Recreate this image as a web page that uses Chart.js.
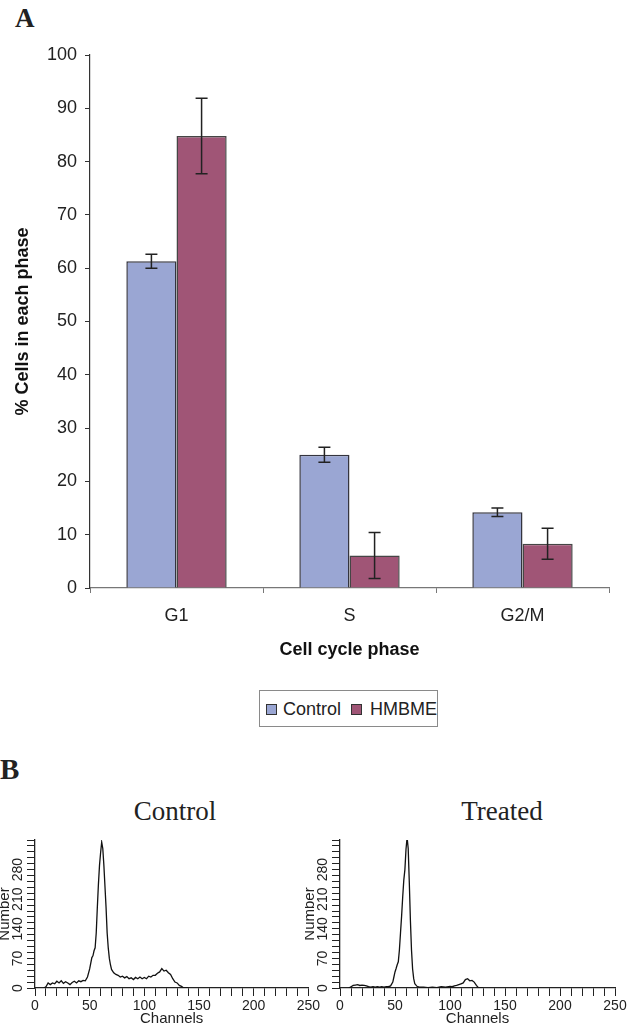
<!DOCTYPE html>
<html>
<head>
<meta charset="utf-8">
<script src="https://cdn.jsdelivr.net/npm/chart.js@4.4.1/dist/chart.umd.min.js"></script>
<style>
  body { margin: 0; width: 630px; height: 1028px; position: relative; background: #fff; overflow: hidden; color: #222; font-family: "Liberation Sans", Arial, sans-serif; }
  .abs { position: absolute; }
  .panel { font-family: "Liberation Serif", "Times New Roman", serif; font-weight: bold; line-height: 1; }
  .htitle { font-family: "Liberation Serif", "Times New Roman", serif; font-size: 27px; line-height: 1; text-align: center; width: 200px; }
  #legend { left: 259px; top: 690px; width: 177px; height: 35px; border: 1.5px solid #8a8a8a; }
  .sw { position: absolute; width: 9px; height: 9px; border: 1px solid #333; top: 13px; }
  .lt { position: absolute; font-size: 18px; line-height: 18px; top: 9px; }
</style>
</head>
<body>
<div class="abs panel" style="left:15px;top:5px;font-size:27px;">A</div>
<div class="abs panel" style="left:0px;top:755px;font-size:29px;">B</div>

<canvas id="bars" class="abs" style="left:0;top:0" width="630" height="680"></canvas>

<div id="legend" class="abs">
  <div class="sw" style="left:6px;background:#9aa6d3"></div>
  <div class="lt" style="left:23px">Control</div>
  <div class="sw" style="left:91px;background:#a05576"></div>
  <div class="lt" style="left:110px">HMBME</div>
</div>

<div class="abs htitle" style="left:75px;top:798px;">Control</div>
<div class="abs htitle" style="left:402px;top:798px;">Treated</div>
<canvas id="histCtrl" class="abs" style="left:0;top:830px" width="322" height="198"></canvas>
<canvas id="histTreat" class="abs" style="left:305px;top:830px" width="325" height="198"></canvas>

<script>
// Panel A: cell cycle distribution
const phases = ['G1', 'S', 'G2/M'];
const controlPct = [61.3, 25.0, 14.2];
const controlErr = [1.3, 1.4, 0.8];
const hmbmePct = [84.8, 6.1, 8.3];
const hmbmeErr = [7.1, 4.3, 2.9];

// Panel B: DNA histograms (channel, count)
const ctrlChannels = [8, 10, 12, 14, 16, 18, 20, 22, 24, 26, 28, 30, 32, 34, 36, 38, 40, 42, 44, 46, 48, 50, 52, 53, 54, 55, 56, 57, 58, 59, 60, 61, 62, 63, 64, 65, 66, 67, 68, 69, 70, 72, 74, 76, 78, 80, 82, 84, 86, 88, 90, 92, 94, 96, 98, 100, 102, 104, 106, 108, 110, 112, 114, 116, 118, 120, 122, 124, 126, 128, 130, 132, 134, 136, 140];
const ctrlCounts = [0, 3, 12, 8, 12, 10, 16, 12, 17, 11, 15, 12, 8, 13, 16, 12, 17, 15, 18, 17, 26, 45, 72, 76, 88, 95, 130, 190, 245, 290, 320, 345, 330, 290, 240, 190, 130, 95, 70, 55, 44, 36, 32, 30, 26, 28, 24, 27, 22, 24, 20, 25, 22, 26, 22, 25, 22, 28, 26, 30, 30, 35, 38, 46, 40, 42, 36, 32, 22, 14, 12, 6, 4, 0, 0];
const treatChannels = [8, 10, 12, 14, 16, 18, 20, 22, 24, 26, 28, 30, 32, 34, 36, 38, 40, 42, 44, 46, 48, 49, 50, 51, 52, 53, 54, 55, 56, 57, 58, 59, 60, 61, 62, 63, 64, 65, 66, 67, 68, 70, 72, 76, 80, 84, 88, 92, 96, 100, 102, 104, 106, 108, 110, 112, 114, 116, 118, 120, 122, 124, 126, 130];
const treatCounts = [0, 3, 6, 7, 8, 6, 7, 6, 5, 3, 2, 3, 2, 3, 2, 3, 2, 3, 3, 5, 14, 26, 38, 46, 55, 62, 90, 130, 170, 215, 255, 280, 328, 356, 330, 250, 160, 90, 45, 22, 10, 4, 2, 2, 1, 2, 1, 3, 2, 4, 3, 5, 6, 8, 10, 12, 20, 22, 17, 18, 14, 6, 0, 0];
const histYLabels = [0, 70, 140, 210, 280];

const sans = '"Liberation Sans", Arial, sans-serif';

const errorBars = {
    id: 'errorBars',
    afterDatasetsDraw(chart) {
        const { ctx, scales: { y } } = chart;
        ctx.save();
        ctx.strokeStyle = '#222';
        ctx.lineWidth = 1.5;
        chart.data.datasets.forEach((ds, i) => {
            chart.getDatasetMeta(i).data.forEach((bar, j) => {
                const top = y.getPixelForValue(ds.data[j] + ds.errors[j]);
                const bot = y.getPixelForValue(ds.data[j] - ds.errors[j]);
                ctx.beginPath();
                ctx.moveTo(bar.x, top); ctx.lineTo(bar.x, bot);
                ctx.moveTo(bar.x - 6, top); ctx.lineTo(bar.x + 6, top);
                ctx.moveTo(bar.x - 6, bot); ctx.lineTo(bar.x + 6, bot);
                ctx.stroke();
            });
        });
        ctx.restore();
    }
};

new Chart(document.getElementById('bars'), {
    type: 'bar',
    data: {
        labels: phases,
        datasets: [
            { label: 'Control', data: controlPct, errors: controlErr, backgroundColor: '#9aa6d3', borderColor: '#34343e', borderWidth: 1.5 },
            { label: 'HMBME', data: hmbmePct, errors: hmbmeErr, backgroundColor: '#a05576', borderColor: '#454545', borderWidth: 1.5 }
        ]
    },
    options: {
        responsive: false,
        animation: false,
        layout: { padding: { top: 55, right: 21, left: 0, bottom: 0 } },
        categoryPercentage: 0.58,
        barPercentage: 1.0,
        scales: {
            x: {
                afterFit: s => { s.height = 92; },
                grid: { offset: true, drawOnChartArea: false, drawTicks: true, tickLength: 5, color: '#777' },
                border: { color: '#777', width: 1.2 },
                ticks: { color: '#222', font: { family: sans, size: 18 }, padding: 12 },
                title: { display: true, text: 'Cell cycle phase', color: '#111', font: { family: sans, size: 18, weight: 'bold' }, padding: { top: 0, bottom: 19 } }
            },
            y: {
                min: 0, max: 100,
                afterFit: s => { s.width = 90; },
                grid: { drawOnChartArea: false, drawTicks: true, tickLength: 5, color: '#333' },
                border: { color: '#333', width: 1.2 },
                ticks: { stepSize: 10, color: '#222', font: { family: sans, size: 18 }, padding: 8 },
                title: { display: true, text: '% Cells in each phase', color: '#111', font: { family: sans, size: 18, weight: 'bold' }, padding: { top: 12, bottom: 0 } }
            }
        },
        plugins: { legend: { display: false }, tooltip: { enabled: false } }
    },
    plugins: [errorBars]
});

const rotatedYLabels = {
    id: 'rotatedYLabels',
    afterDraw(chart) {
        const { ctx, scales: { y } } = chart;
        ctx.save();
        ctx.font = '14px ' + sans;
        ctx.fillStyle = '#222';
        ctx.textAlign = 'center';
        ctx.textBaseline = 'middle';
        histYLabels.forEach(v => {
            ctx.save();
            ctx.translate(y.right - 17, y.getPixelForValue(v));
            ctx.rotate(-Math.PI / 2);
            ctx.fillText(String(v), 0, 0);
            ctx.restore();
        });
        ctx.restore();
    }
};

function makeHist(id, channels, counts, padRight) {
    new Chart(document.getElementById(id), {
        type: 'line',
        data: {
            datasets: [{
                data: channels.map((c, i) => ({ x: c, y: counts[i] })),
                borderColor: '#111', borderWidth: 1.3, pointRadius: 0, tension: 0, fill: false
            }]
        },
        options: {
            responsive: false,
            animation: false,
            layout: { padding: { top: 10, right: padRight, left: 0, bottom: 0 } },
            scales: {
                x: {
                    type: 'linear', min: 0, max: 250,
                    afterFit: s => { s.height = 40; },
                    grid: { drawOnChartArea: false, drawTicks: true, tickLength: 8, color: '#222' },
                    border: { color: '#222', width: 1.3 },
                    ticks: { stepSize: 10, autoSkip: false, maxRotation: 0, color: '#222', font: { family: sans, size: 14 }, padding: 2,
                        callback: v => (v % 50 === 0 ? v : '') },
                    title: { display: true, text: 'Channels', color: '#222', font: { family: sans, size: 15 }, padding: { top: 0, bottom: 0 } }
                },
                y: {
                    min: 0, max: 350,
                    afterFit: s => { s.width = 35; },
                    grid: { drawOnChartArea: false, drawTicks: true, tickLength: 8, color: '#222' },
                    border: { color: '#222', width: 1.3 },
                    ticks: { stepSize: 14, autoSkip: false, display: false },
                    title: { display: true, text: 'Number', color: '#222', font: { family: sans, size: 15 }, padding: { top: -4, bottom: 0 } }
                }
            },
            plugins: { legend: { display: false }, tooltip: { enabled: false } }
        },
        plugins: [rotatedYLabels]
    });
}

makeHist('histCtrl', ctrlChannels, ctrlCounts, 13);
makeHist('histTreat', treatChannels, treatCounts, 15);
</script>
</body>
</html>
